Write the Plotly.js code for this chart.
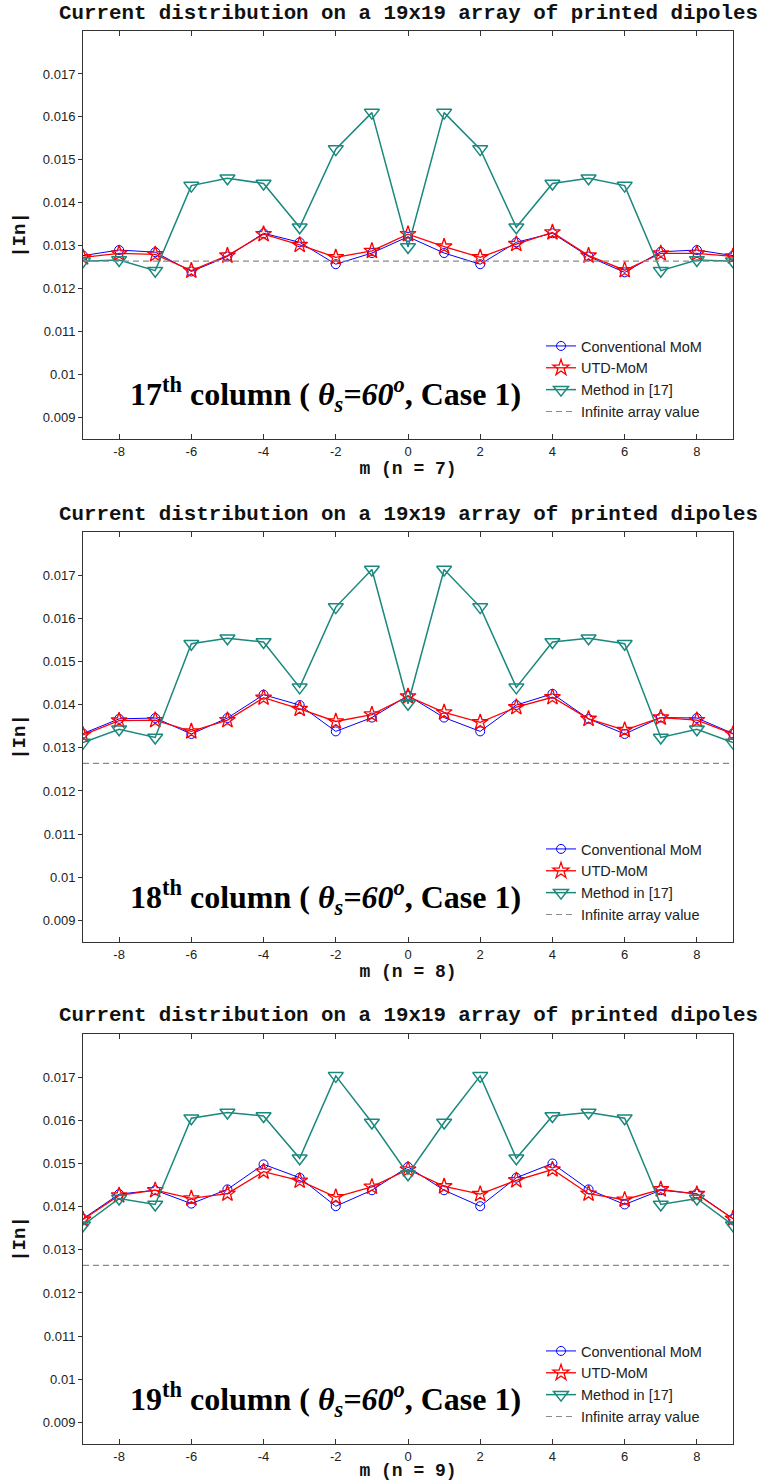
<!DOCTYPE html>
<html>
<head>
<meta charset="utf-8">
<script src="https://cdn.plot.ly/plotly-3.0.1.min.js"></script>
<style>
  html, body { margin: 0; padding: 0; background: #fff; }
  #chart { width: 763px; height: 1481px; }
</style>
</head>
<body>
<div id="chart"></div>
<script>
// Element index along the row (m) for each column n
const m = [-9, -8, -7, -6, -5, -4, -3, -2, -1, 0, 1, 2, 3, 4, 5, 6, 7, 8, 9];

// |In| on column 17 (n = 7)
const mom17 = [0.01277, 0.01290, 0.01285, 0.01240, 0.01275, 0.01329, 0.01308, 0.01257, 0.01283, 0.01321,
               0.01283, 0.01257, 0.01308, 0.01329, 0.01275, 0.01238, 0.01286, 0.01290, 0.01277];
const utd17 = [0.01273, 0.01282, 0.01280, 0.01242, 0.01277, 0.01327, 0.01302, 0.01273, 0.01288, 0.01327,
               0.01298, 0.01273, 0.01304, 0.01331, 0.01277, 0.01243, 0.01282, 0.01282, 0.01275];
const ref17 = [0.01264, 0.01267, 0.01242, 0.01440, 0.01457, 0.01445, 0.01343, 0.01525, 0.01610, 0.01297,
               0.01610, 0.01525, 0.01343, 0.01445, 0.01457, 0.01440, 0.01242, 0.01267, 0.01264];

// |In| on column 18 (n = 8)
const mom18 = [0.01333, 0.01367, 0.01369, 0.01332, 0.01369, 0.01423, 0.01399, 0.01338, 0.01370, 0.01421,
               0.01370, 0.01338, 0.01399, 0.01425, 0.01367, 0.01332, 0.01370, 0.01369, 0.01333];
const utd18 = [0.01330, 0.01363, 0.01364, 0.01338, 0.01364, 0.01416, 0.01390, 0.01361, 0.01377, 0.01419,
               0.01382, 0.01359, 0.01394, 0.01417, 0.01367, 0.01341, 0.01370, 0.01364, 0.01332];
const ref18 = [0.01312, 0.01343, 0.01324, 0.01541, 0.01554, 0.01545, 0.01440, 0.01626, 0.01713, 0.01402,
               0.01713, 0.01626, 0.01440, 0.01545, 0.01554, 0.01541, 0.01324, 0.01343, 0.01312];

// |In| on column 19 (n = 9)
const mom19 = [0.01372, 0.01429, 0.01438, 0.01407, 0.01440, 0.01498, 0.01467, 0.01401, 0.01438, 0.01492,
               0.01438, 0.01401, 0.01467, 0.01500, 0.01440, 0.01405, 0.01438, 0.01430, 0.01372];
const utd19 = [0.01370, 0.01426, 0.01438, 0.01419, 0.01430, 0.01481, 0.01460, 0.01422, 0.01446, 0.01486,
               0.01447, 0.01429, 0.01461, 0.01486, 0.01430, 0.01416, 0.01440, 0.01429, 0.01372];
const ref19 = [0.01357, 0.01419, 0.01405, 0.01605, 0.01618, 0.01610, 0.01512, 0.01703, 0.01595, 0.01475,
               0.01595, 0.01703, 0.01512, 0.01610, 0.01618, 0.01605, 0.01405, 0.01419, 0.01357];

// Infinite array reference level, drawn across the whole row
const infX = [-9, 9];
const infY = [0.01264, 0.01264];

// Axis ticks
const xTickVals = [-8, -6, -4, -2, 0, 2, 4, 6, 8];
const xTickText = ['-8', '-6', '-4', '-2', '0', '2', '4', '6', '8'];
const yTickVals = [0.009, 0.010, 0.011, 0.012, 0.013, 0.014, 0.015, 0.016, 0.017];
const yTickText = ['0.009', '0.01', '0.011', '0.012', '0.013', '0.014', '0.015', '0.016', '0.017'];

// Panel labels
const columnOrdinals = ['17<sup>th</sup>', '18<sup>th</sup>', '19<sup>th</sup>'];
const rowLabels = ['m (n = 7)', 'm (n = 8)', 'm (n = 9)'];
const seriesNames = ['Conventional MoM', 'UTD-MoM', 'Method in [17]', 'Infinite array value'];
const chartTitle = 'Current distribution on a 19x19 array of printed dipoles';

const panels = [
  { mom: mom17, utd: utd17, ref: ref17 },
  { mom: mom18, utd: utd18, ref: ref18 },
  { mom: mom19, utd: utd19, ref: ref19 }
];

// Page geometry (pixels)
const W = 763, H = 1481;
const margin = { l: 83, r: 30, t: 31, b: 37 };
const plotH = H - margin.t - margin.b;
// top / bottom pixel rows of each panel's plotting box
const boxes = [[31, 439], [532, 942], [1034, 1444]];
const py = px => (H - margin.b - px) / plotH;        // pixel row -> paper y
const pxX = px => (px - margin.l) / (W - margin.l - margin.r); // pixel col -> paper x

const BLUE = '#0000ff', RED = '#ff0000', TEAL = '#1a887d', GREY = '#8a8a8a';
const monoBold = { family: 'Liberation Mono, Courier New, monospace', size: 20.8, color: '#111', weight: 'bold' };
const tickFont = { family: 'Liberation Sans, Arial, sans-serif', size: 13, color: '#222' };

const traces = [];
const layout = {
  width: W, height: H,
  margin: margin,
  paper_bgcolor: '#ffffff',
  plot_bgcolor: '#ffffff',
  showlegend: true,
  annotations: []
};

panels.forEach((p, i) => {
  const k = i + 1;
  const xa = k === 1 ? 'x' : 'x' + k;
  const ya = k === 1 ? 'y' : 'y' + k;
  const lg = k === 1 ? 'legend' : 'legend' + k;

  traces.push({
    x: m, y: p.mom, xaxis: xa, yaxis: ya, legend: lg, name: seriesNames[0],
    type: 'scatter', mode: 'lines+markers',
    line: { color: BLUE, width: 1 },
    marker: { symbol: 'circle-open', size: 9, color: BLUE, line: { width: 1 } }
  });
  traces.push({
    x: m, y: p.utd, xaxis: xa, yaxis: ya, legend: lg, name: seriesNames[1],
    type: 'scatter', mode: 'lines+markers',
    line: { color: RED, width: 1.3 },
    marker: { symbol: 'star-open', size: 12, color: RED, line: { width: 1.3 } }
  });
  traces.push({
    x: m, y: p.ref, xaxis: xa, yaxis: ya, legend: lg, name: seriesNames[2],
    type: 'scatter', mode: 'lines+markers',
    line: { color: TEAL, width: 1.5 },
    marker: { symbol: 'triangle-down-open', size: 13, color: TEAL, line: { width: 1.5 } }
  });
  traces.push({
    x: infX, y: infY, xaxis: xa, yaxis: ya, legend: lg, name: seriesNames[3],
    type: 'scatter', mode: 'lines',
    line: { color: GREY, width: 1.2, dash: '6px,4px' }
  });

  const [top, bot] = boxes[i];
  layout['xaxis' + (k === 1 ? '' : k)] = {
    domain: [0, 1], anchor: ya, range: [-9, 9],
    tickmode: 'array', tickvals: xTickVals, ticktext: xTickText,
    ticks: 'inside', ticklen: 5, tickcolor: '#333', tickwidth: 1,
    showline: true, linecolor: '#333', linewidth: 1, mirror: 'ticks',
    showgrid: false, zeroline: false,
    tickfont: tickFont,
    title: { text: rowLabels[i], font: { ...monoBold, size: 18 }, standoff: 2 }
  };
  layout['yaxis' + (k === 1 ? '' : k)] = {
    domain: [py(bot), py(top)], anchor: xa, range: [0.0085, 0.018],
    tickmode: 'array', tickvals: yTickVals, ticktext: yTickText,
    ticks: 'outside', ticklen: 4, tickcolor: '#333', tickwidth: 1,
    showline: true, linecolor: '#333', linewidth: 1, mirror: true,
    showgrid: false, zeroline: false,
    tickfont: tickFont,
    title: { text: '|In|', font: { ...monoBold, size: 19 }, standoff: 12 }
  };
  // right-hand tick marks pointing into the box
  layout['yaxis' + (k + 3)] = {
    overlaying: ya, side: 'right', anchor: xa, range: [0.0085, 0.018],
    tickmode: 'array', tickvals: yTickVals,
    ticks: 'inside', ticklen: 4, tickcolor: '#333', tickwidth: 1,
    showticklabels: false, showline: false, showgrid: false, zeroline: false
  };

  layout[lg] = {
    x: pxX(541), xanchor: 'left',
    y: py(bot - 103), yanchor: 'top',
    bgcolor: 'rgba(255,255,255,0)', borderwidth: 0,
    font: { family: 'Liberation Sans, Arial, sans-serif', size: 14.5, color: '#222' },
    tracegroupgap: 0
  };
  layout[lg].y = py(bot - 109);

  // chart title above each box
  layout.annotations.push({
    xref: 'paper', yref: 'paper', x: pxX(408), y: py(top - 18),
    xanchor: 'center', yanchor: 'middle', showarrow: false,
    text: chartTitle, font: monoBold
  });
  // column / scan-angle label inside each box
  layout.annotations.push({
    xref: 'paper', yref: 'paper', x: pxX(325), y: py(bot - 45),
    xanchor: 'center', yanchor: 'middle', showarrow: false,
    text: columnOrdinals[i] + ' column ( <i>θ<sub>s</sub>=60<sup>o</sup></i>, Case 1)',
    font: { family: 'Liberation Serif, Times New Roman, serif', size: 32, color: '#000', weight: 'bold' }
  });
});

Plotly.newPlot('chart', traces, layout, { displayModeBar: false, staticPlot: true });
</script>
</body>
</html>
